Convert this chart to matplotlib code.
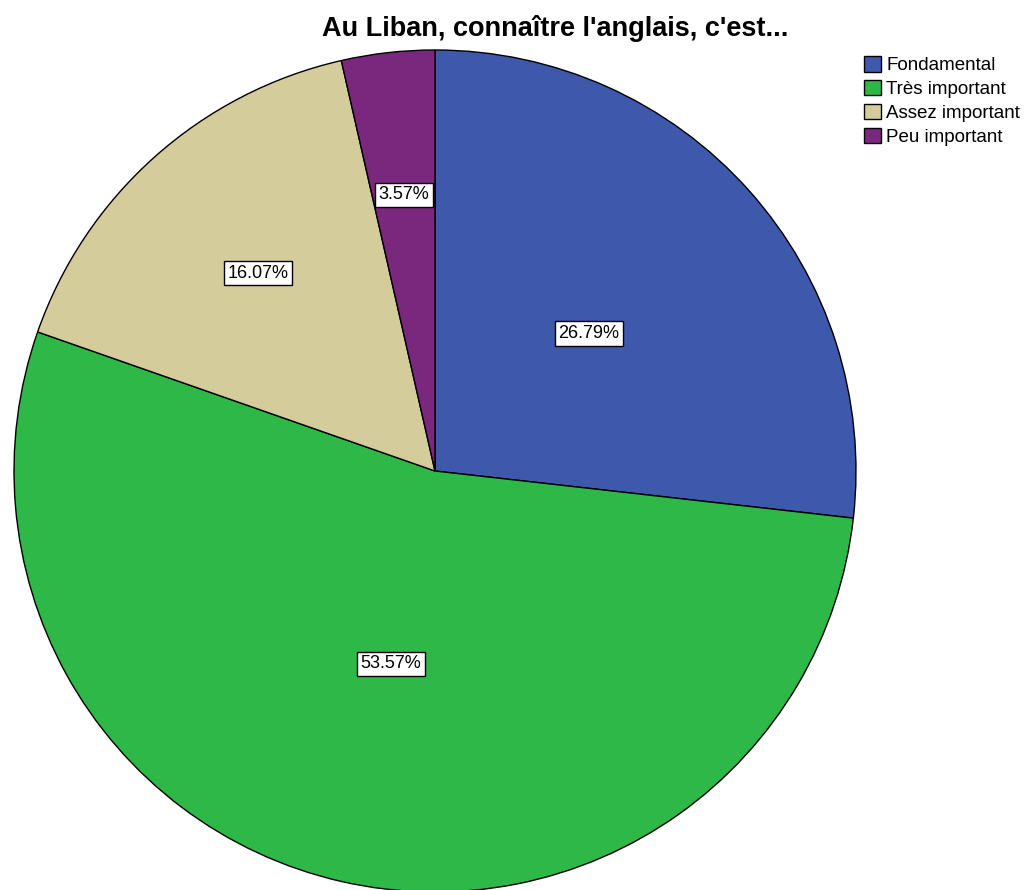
import numpy as np
import matplotlib
matplotlib.use("Agg")
import matplotlib.pyplot as plt

plt.rcParams["font.family"] = ["Liberation Sans", "DejaVu Sans"]

categories = ["Fondamental", "Très important", "Assez important", "Peu important"]
counts = [15, 30, 9, 2]
pct_labels = ["26.79%", "53.57%", "16.07%", "3.57%"]
colors = ["#3e58ac", "#2eb848", "#d4cc9a", "#79287d"]
title = "Au Liban, connaître l'anglais, c'est..."

# label radius as fraction of the pie radius
label_r = [0.49, 0.47, 0.63, 0.66]

W, H = 1034, 890
fig = plt.figure(figsize=(W / 100, H / 100), dpi=100)
ax = fig.add_axes([0, 0, 1, 1])

cx, cy, R = 435, H - 471, 421
wedges, _ = ax.pie(counts, colors=colors, startangle=90, counterclock=False,
                   center=(cx, cy), radius=R, frame=True,
                   wedgeprops=dict(edgecolor="black", linewidth=1.0))
ax.set_xlim(0, W)
ax.set_ylim(0, H)
ax.set_aspect("equal")
ax.axis("off")

for w, lab, f in zip(wedges, pct_labels, label_r):
    mid = np.deg2rad((w.theta1 + w.theta2) / 2)
    ax.text(cx + f * R * np.cos(mid), cy + f * R * np.sin(mid), lab,
            ha="center", va="center", fontsize=13,
            bbox=dict(boxstyle="square,pad=0.2", fc="white", ec="black", lw=1))

fig.text(555 / W, 1 - 29 / H, title, ha="center", va="center",
         fontsize=19.5, fontweight="bold")

leg = ax.legend(wedges, categories, loc="upper left",
                bbox_to_anchor=(864 / W, 1 - 56 / H), frameon=False,
                fontsize=13.5, handlelength=0.9, handleheight=0.9,
                handletextpad=0.3, labelspacing=0.3, borderpad=0,
                borderaxespad=0)

fig.savefig("out.png", dpi=100)
